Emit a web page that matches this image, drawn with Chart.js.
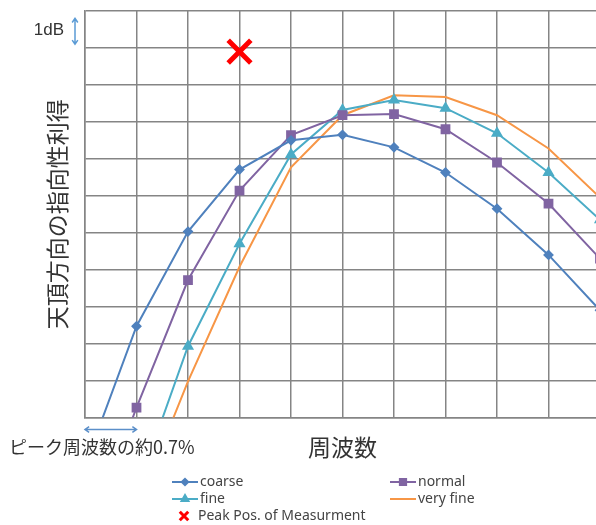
<!DOCTYPE html>
<html lang="ja">
<head>
<meta charset="UTF-8">
<title>天頂方向の指向性利得</title>
<script src="https://cdn.jsdelivr.net/npm/chart.js"></script>
<style>
  html, body { margin: 0; padding: 0; overflow: hidden; background: #fff; }
</style>
</head>
<body>
<canvas id="gainChart" width="610" height="525"></canvas>
<script>
// grid columns along the frequency axis
const freqSteps = [0, 1, 2, 3, 4, 5, 6, 7, 8, 9, 10];

// gain in dB (one grid row = 1 dB), null = no point
const coarse   = [-1.3, 2.47, 5.03, 6.71, 7.5, 7.65, 7.31, 6.63, 5.65, 4.4, 2.9];
const normal   = [-3.5, 0.27, 3.72, 6.14, 7.64, 8.18, 8.21, 7.8, 6.9, 5.79, 4.3];
const fine     = [null, -2.0, 1.93, 4.7, 7.12, 8.32, 8.59, 8.37, 7.69, 6.63, 5.35];
const veryFine = [null, -2.5, 0.98, 4.08, 6.77, 8.18, 8.72, 8.67, 8.18, 7.28, 5.95];

// measured peak position
const peakFreq = [3];
const peakGain = [9.9];

const seriesNames = ['coarse', 'normal', 'fine', 'very fine', 'Peak Pos. of Measurment'];

const jpFont = '"Noto Sans CJK JP", "Noto Sans", sans-serif';
const gridColor = '#858585';

function toPoints(xs, ys) {
    return xs.map((x, i) => ({ x: x, y: ys[i] })).filter(p => p.y !== null);
}

// double headed arrow
function arrow(ctx, x1, y1, x2, y2, color) {
    const a = Math.atan2(y2 - y1, x2 - x1);
    const h = 5;
    ctx.save();
    ctx.strokeStyle = color;
    ctx.lineWidth = 1.5;
    ctx.beginPath();
    ctx.moveTo(x1, y1);
    ctx.lineTo(x2, y2);
    [[x1, y1, a], [x2, y2, a + Math.PI]].forEach(([x, y, r]) => {
        ctx.moveTo(x + h * Math.cos(r + 0.6), y + h * Math.sin(r + 0.6));
        ctx.lineTo(x, y);
        ctx.lineTo(x + h * Math.cos(r - 0.6), y + h * Math.sin(r - 0.6));
    });
    ctx.stroke();
    ctx.restore();
}

// notes + two column legend below the chart
const extras = {
    id: 'extras',
    afterDraw(chart) {
        const ctx = chart.ctx;
        const area = chart.chartArea;
        const xs = chart.scales.x;
        const ys = chart.scales.y;

        ctx.save();
        ctx.fillStyle = '#333';
        ctx.textBaseline = 'middle';

        // 1dB marker
        ctx.font = '17px "Liberation Sans", Arial, sans-serif';
        ctx.textAlign = 'right';
        ctx.fillText('1dB', 64, 30);
        arrow(ctx, 75, ys.getPixelForValue(10.8), 75, ys.getPixelForValue(10.1), '#5b9bd5');

        // span under the first column
        arrow(ctx, xs.getPixelForValue(0), area.bottom + 12, xs.getPixelForValue(1), area.bottom + 12, '#5b8fc9');
        ctx.font = '18px ' + jpFont;
        ctx.textAlign = 'left';
        ctx.fillStyle = '#333';
        ctx.fillText('ピーク周波数の約0.7%', 9, 447);

        // legend
        const cols = [172, 390];
        const rows = [482, 499, 516];
        const slots = [[0, 0], [1, 0], [0, 1], [1, 1]];
        ctx.font = '14px "Noto Sans", sans-serif';
        chart.data.datasets.slice(0, 4).forEach((ds, i) => {
            const x = cols[slots[i][0]];
            const y = rows[slots[i][1]];
            ctx.strokeStyle = ds.borderColor;
            ctx.lineWidth = 2;
            ctx.beginPath();
            ctx.moveTo(x, y);
            ctx.lineTo(x + 26, y);
            ctx.stroke();
            if (ds.pointRadius > 0) {
                ctx.fillStyle = ds.borderColor;
                Chart.helpers.drawPoint(ctx, {
                    pointStyle: ds.pointStyle, radius: ds.pointRadius * 0.8, rotation: 0, borderWidth: 1
                }, x + 13, y);
            }
            ctx.fillStyle = '#444';
            ctx.fillText(ds.label, x + 28, y);
        });
        const pk = chart.data.datasets[4];
        ctx.strokeStyle = pk.borderColor;
        ctx.lineWidth = 3;
        Chart.helpers.drawPoint(ctx, { pointStyle: 'crossRot', radius: 6, rotation: 0, borderWidth: 3 }, 184, rows[2]);
        ctx.fillStyle = '#444';
        ctx.fillText(pk.label, 198, rows[2]);
        ctx.restore();
    }
};

const ctx = document.getElementById('gainChart').getContext('2d');

new Chart(ctx, {
    type: 'line',
    data: {
        datasets: [{
            label: seriesNames[0],
            data: toPoints(freqSteps, coarse),
            borderColor: '#4f81bd',
            backgroundColor: '#4f81bd',
            borderWidth: 2,
            pointStyle: 'rectRot',
            pointRadius: 4
        }, {
            label: seriesNames[1],
            data: toPoints(freqSteps, normal),
            borderColor: '#8064a2',
            backgroundColor: '#8064a2',
            borderWidth: 2,
            pointStyle: 'rect',
            pointRadius: 5.5
        }, {
            label: seriesNames[2],
            data: toPoints(freqSteps, fine),
            borderColor: '#4bacc6',
            backgroundColor: '#4bacc6',
            borderWidth: 2,
            pointStyle: 'triangle',
            pointRadius: 5
        }, {
            label: seriesNames[3],
            data: toPoints(freqSteps, veryFine),
            borderColor: '#f79646',
            backgroundColor: '#f79646',
            borderWidth: 2,
            pointRadius: 0
        }, {
            label: seriesNames[4],
            data: toPoints(peakFreq, peakGain),
            showLine: false,
            clip: false,
            borderColor: '#ff0000',
            backgroundColor: '#ff0000',
            pointStyle: 'crossRot',
            pointRadius: 16,
            pointBorderWidth: 5
        }]
    },
    options: {
        responsive: false,
        animation: false,
        events: [],
        layout: { autoPadding: false, padding: { left: 45.5, top: 11, right: 10, bottom: 66 } },
        plugins: { legend: { display: false }, tooltip: { enabled: false } },
        scales: {
            x: {
                type: 'linear',
                min: 0,
                max: 10,
                ticks: { display: false, stepSize: 1 },
                grid: { color: gridColor, lineWidth: 1.5, drawTicks: false },
                border: { color: gridColor, width: 1.5 },
                title: {
                    display: true,
                    text: '周波数',
                    color: '#333',
                    font: { family: jpFont, size: 23, lineHeight: 1 },
                    padding: { top: 18.5, bottom: 0 }
                }
            },
            y: {
                min: 0,
                max: 11,
                ticks: { display: false, stepSize: 1 },
                grid: { color: gridColor, lineWidth: 1.5, drawTicks: false },
                border: { color: gridColor, width: 1.5 },
                title: {
                    display: true,
                    text: '天頂方向の指向性利得',
                    color: '#333',
                    font: { family: jpFont, size: 23, lineHeight: 1 },
                    padding: { top: 0, bottom: 16.5 }
                }
            }
        }
    },
    plugins: [extras]
});
</script>
</body>
</html>
